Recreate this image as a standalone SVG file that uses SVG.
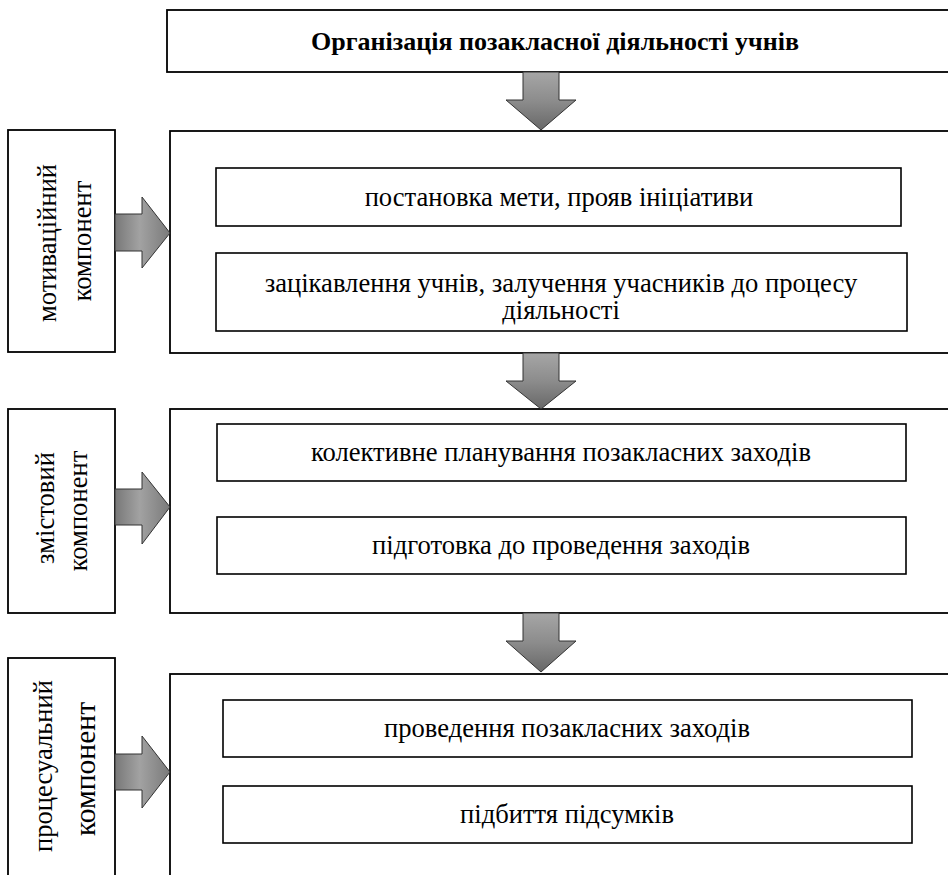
<svg xmlns="http://www.w3.org/2000/svg" width="948" height="875" viewBox="0 0 948 875">
<defs>
<linearGradient id="gDown" x1="0" y1="0" x2="0" y2="1">
<stop offset="0" stop-color="#a6a6a6"/>
<stop offset="0.5" stop-color="#8c8c8c"/>
<stop offset="1" stop-color="#686868"/>
</linearGradient>
<linearGradient id="gRight" x1="0" y1="0" x2="1" y2="0">
<stop offset="0" stop-color="#787878"/>
<stop offset="0.45" stop-color="#a2a2a2"/>
<stop offset="1" stop-color="#7a7a7a"/>
</linearGradient>
</defs>
<style>
.box{fill:#fff;stroke:#000;stroke-width:1.8}
.inner{fill:#fff;stroke:#000;stroke-width:1.6}
.t{font-family:"Liberation Serif","Times New Roman",serif;font-size:26.6px;fill:#000;text-anchor:middle}
.title{font-family:"Liberation Serif","Times New Roman",serif;font-size:26px;font-weight:bold;fill:#000;text-anchor:middle}
.side{font-family:"Liberation Serif","Times New Roman",serif;font-size:26.6px;fill:#000;text-anchor:middle}
.ad{fill:url(#gDown);stroke:#333;stroke-width:1}
.ar{fill:url(#gRight);stroke:#333;stroke-width:1}
</style>
<rect width="948" height="875" fill="#fff"/>

<g id="title">
<rect class="box" x="167" y="10" width="800" height="62"/>
<text class="title" x="555" y="50">Організація позакласної діяльності учнів</text>
</g>

<g id="block1">
<rect class="box" x="170" y="131" width="800" height="222"/>
</g>
<g id="b1a">
<rect class="inner" x="216" y="168" width="685" height="58"/>
<text class="t" x="559" y="206">постановка мети, прояв ініціативи</text>
</g>
<g id="b1b">
<rect class="inner" x="216" y="253" width="691" height="78"/>
<text class="t" x="561" y="292">зацікавлення учнів, залучення учасників до процесу</text>
<text class="t" x="561" y="319">діяльності</text>
</g>
<g id="side1">
<rect class="box" x="8" y="130" width="107" height="222"/>
<text class="side" transform="translate(56,243) rotate(-90)">мотиваційний</text>
<text class="side" transform="translate(91,241) rotate(-90)">компонент</text>
</g>

<g id="block2">
<rect class="box" x="170" y="409" width="800" height="204"/>
</g>
<g id="b2a">
<rect class="inner" x="217" y="424" width="689" height="57"/>
<text class="t" x="561" y="461">колективне планування позакласних заходів</text>
</g>
<g id="b2b">
<rect class="inner" x="217" y="517" width="689" height="57"/>
<text class="t" x="561" y="554">підготовка до проведення заходів</text>
</g>
<g id="side2">
<rect class="box" x="8" y="409" width="107" height="204"/>
<text class="side" transform="translate(54,508) rotate(-90)">змістовий</text>
<text class="side" transform="translate(87,511) rotate(-90)">компонент</text>
</g>

<g id="block3">
<rect class="box" x="170" y="674" width="800" height="220"/>
</g>
<g id="b3a">
<rect class="inner" x="223" y="700" width="689" height="57"/>
<text class="t" x="567" y="737">проведення позакласних заходів</text>
</g>
<g id="b3b">
<rect class="inner" x="223" y="786" width="689" height="57"/>
<text class="t" x="567" y="823">підбиття підсумків</text>
</g>
<g id="side3">
<rect class="box" x="8" y="658" width="107" height="240"/>
<text class="side" transform="translate(52,766) rotate(-90)">процесуальний</text>
<text class="side" style="font-size:29.6px" transform="translate(95,769) rotate(-90)">компонент</text>
</g>

<g id="connectors">
<polygon class="ad" points="523,72 559,72 559,100 576,100 541,130 506,100 523,100"/>
<polygon class="ad" points="523,353 559,353 559,381 576,381 541,409 506,381 523,381"/>
<polygon class="ad" points="523,613 559,613 559,641 576,641 541,672 506,641 523,641"/>
<polygon class="ar" points="115,214 142,214 142,197 170,233 142,268 142,251 115,251"/>
<polygon class="ar" points="115,489 142,489 142,472 170,507 142,544 142,525 115,525"/>
<polygon class="ar" points="115,754 142,754 142,736 170,772 142,808 142,790 115,790"/>
</g>
</svg>
